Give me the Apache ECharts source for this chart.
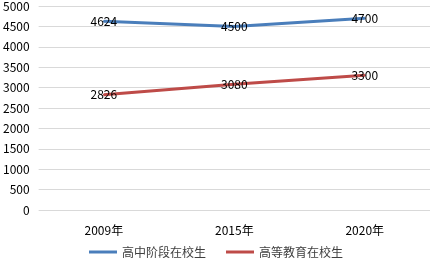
<!DOCTYPE html>
<html><head><meta charset="utf-8">
<script src="https://cdn.jsdelivr.net/npm/echarts@6/dist/echarts.min.js"></script>
<style>html,body{margin:0;padding:0;background:#fff}#c{width:432px;height:262px}</style>
</head><body><div id="c"></div>
<script>
const categories = ['2009年', '2015年', '2020年'];
const seriesNames = ['高中阶段在校生', '高等教育在校生'];
const highSchool = [4624, 4500, 4700];
const higherEd = [2826, 3080, 3300];
const yTicks = [0, 500, 1000, 1500, 2000, 2500, 3000, 3500, 4000, 4500, 5000];
const colors = ['#4a7ebb', '#be4b48'];

const font = '"Noto Sans CJK SC", "Liberation Sans", sans-serif';
const chart = echarts.init(document.getElementById('c'), null, {renderer: 'canvas'});
const mkSeries = (name, data, color) => ({
  name, type: 'line', data, symbol: 'circle', symbolSize: 2, showSymbol: true,
  lineStyle: {color, width: 3}, itemStyle: {color},
  label: {show: true, position: 'inside', color: '#000', fontSize: 12, fontFamily: font}
});
chart.setOption({
  animation: false,
  textStyle: {fontFamily: font},
  grid: {left: 37, right: 2, top: 6, bottom: 52},
  legend: {
    bottom: -1, left: 'center', itemWidth: 28, itemHeight: 3, itemGap: 20,
    icon: 'rect',
    textStyle: {fontSize: 12, color: '#404040', fontFamily: font},
    data: seriesNames
  },
  xAxis: {
    type: 'category', data: categories, boundaryGap: true,
    axisLine: {show: false}, axisTick: {show: false},
    axisLabel: {fontSize: 12, color: '#000', margin: 14, fontFamily: font}
  },
  yAxis: {
    type: 'value', min: yTicks[0], max: yTicks[yTicks.length - 1], interval: 500,
    axisLine: {show: false}, axisTick: {show: false},
    axisLabel: {fontSize: 12, color: '#000', margin: 9, fontFamily: font,
      formatter: v => String(v)},
    splitLine: {lineStyle: {color: '#d9d9d9', width: 1}}
  },
  series: [
    mkSeries(seriesNames[0], highSchool, colors[0]),
    mkSeries(seriesNames[1], higherEd, colors[1])
  ]
});
</script></body></html>
